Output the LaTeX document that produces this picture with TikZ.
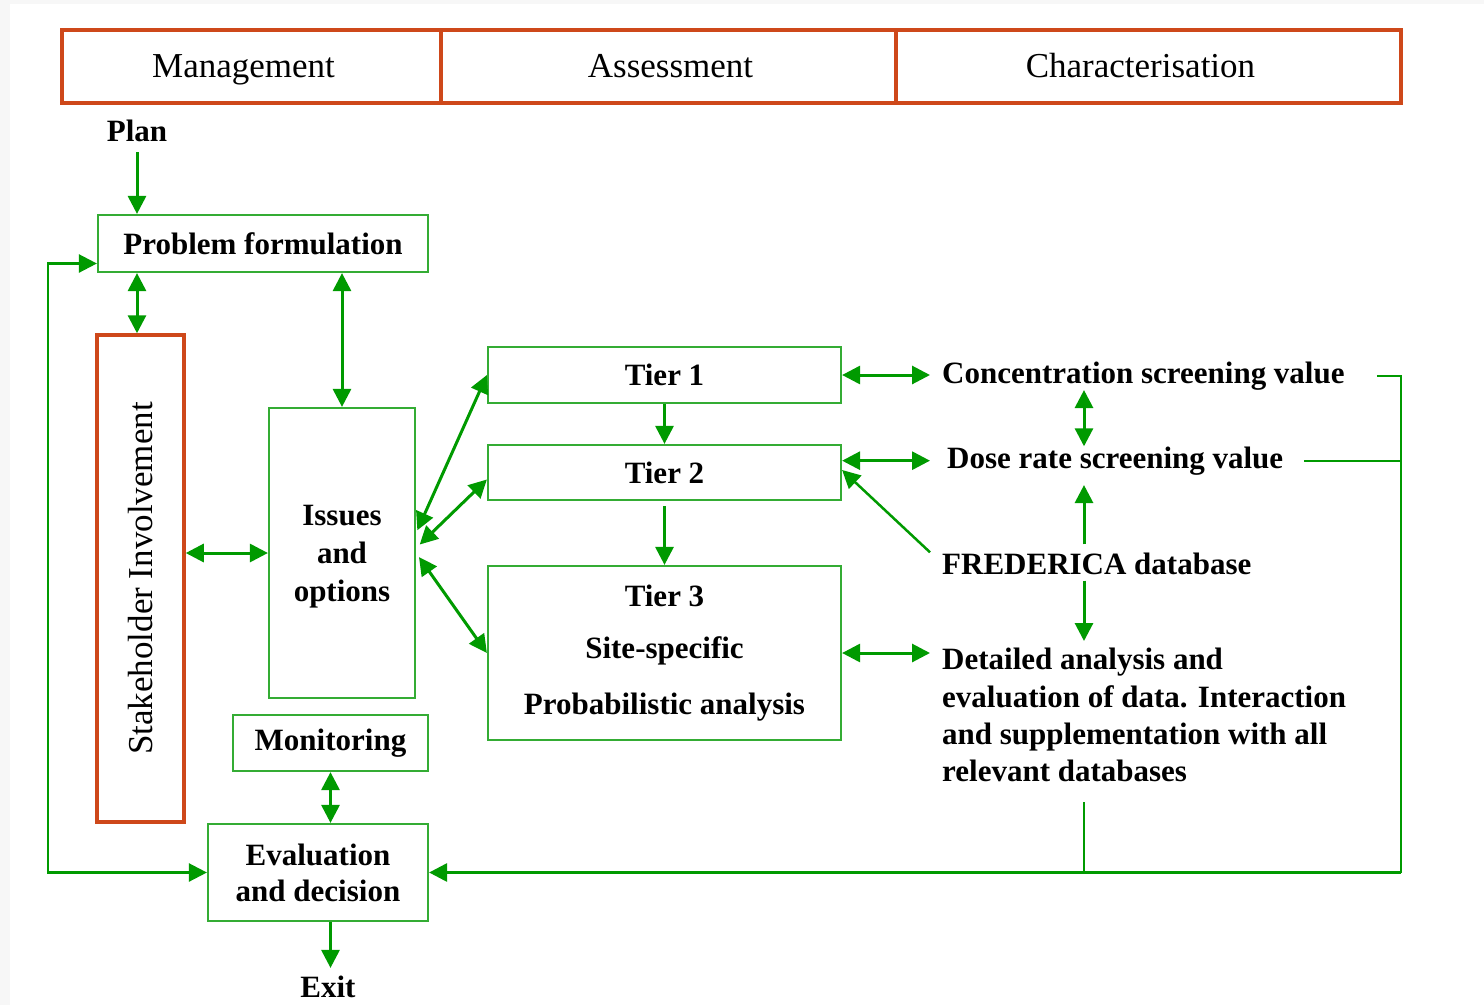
\documentclass[tikz,border=0pt]{standalone}
\usepackage{fontspec}
\setmainfont{Liberation Serif}
\usetikzlibrary{arrows.meta,calc}
\definecolor{hdrred}{RGB}{206,72,26}
\definecolor{flowgreen}{RGB}{0,154,0}
\definecolor{boxgreen}{RGB}{52,172,52}
\tikzset{
  hdrcell/.style={draw=hdrred, line width=3.5pt, minimum height=73pt, inner sep=0pt, text height=26pt, text depth=5pt, font=\fontsize{35}{42}\selectfont},
  redbox/.style={draw=hdrred, line width=3.5pt, inner sep=0pt, font=\fontsize{35}{42}\selectfont},
  greenbox/.style={draw=boxgreen, line width=2.2pt, inner sep=0pt, align=center, font=\fontsize{31}{38}\selectfont\bfseries},
  lbl/.style={inner sep=0pt, font=\fontsize{31}{37.3}\selectfont\bfseries},
  flow/.style={draw=flowgreen, line width=3pt, -{Triangle[length=18pt,width=18pt]}},
  flowboth/.style={flow, {Triangle[length=18pt,width=18pt]}-{Triangle[length=18pt,width=18pt]}},
  plainflow/.style={draw=flowgreen, line width=2.2pt},
}

\begin{document}
\begin{tikzpicture}[x=1pt,y=-1pt]
\useasboundingbox (0,0) rectangle (1484,1005);
\fill[gray!6] (0,0) rectangle (1484,1005);
\fill[white] (10,4) rectangle (1484,1005);

\node[hdrcell, minimum width=379pt] (mgmt) at (251.5,66.5) {Management\hspace*{16pt}};
\node[hdrcell, minimum width=455pt] (assess) at (668.5,66.5) {\hspace*{4pt}Assessment};
\node[hdrcell, minimum width=505pt] (charact) at (1148.5,66.5) {Characterisation\hspace*{16pt}};

\node[greenbox, minimum width=330pt, minimum height=57pt] (prob) at (263,243.5) {Problem formulation};
\node[redbox, minimum width=87pt, minimum height=487pt] (stake) at (140.5,578.5) {\rotatebox{90}{Stakeholder Involvement}};
\node[greenbox, minimum width=146pt, minimum height=290pt, text depth=0pt] (issues) at (342,553) {Issues\\and\\options};
\node[greenbox, minimum width=195pt, minimum height=56pt] (mon) at (330.5,743) {Monitoring};
\node[greenbox, minimum width=220pt, minimum height=97pt, font=\fontsize{31}{36}\selectfont\bfseries] (eval) at (318,872.5) {Evaluation\\and decision};
\node[greenbox, minimum width=353pt, minimum height=56pt] (tier1) at (664.5,375) {Tier 1};
\node[greenbox, minimum width=353pt, minimum height=55pt] (tier2) at (664.5,472.5) {Tier 2};
\node[greenbox, minimum width=353pt, minimum height=174pt] (tier3) at (664.5,653) {Tier 3\\[14pt]Site-specific\\[18pt]Probabilistic analysis};

\node[lbl] (plan) at (137,131) {Plan};
\node[lbl] (exit) at (328,987) {Exit};
\node[lbl, anchor=base west] (conc) at (942,383) {Concentration screening value};
\node[lbl, anchor=base west] (dose) at (947,468) {Dose rate screening value};
\node[lbl, anchor=base west] (fred) at (942,574) {FREDERICA database};
\node[lbl, anchor=north west, align=left] (detail) at (942,648) {Detailed analysis and\\evaluation of data. Interaction\\and supplementation with all\\relevant databases};

\coordinate (colx) at (1084,0);
\coordinate (colR) at (1401,0);

\draw[flow, shorten <=10pt] (plan.south) -- (plan.south |- prob.north);
\draw[flowboth] (plan.south |- prob.south) -- (plan.south |- stake.north);
\draw[flowboth] (issues.north) -- (issues.north |- prob.south);
\draw[flowboth] (stake.east |- issues.west) -- (issues.west);
\draw[flowboth] (mon.south) -- (mon.south |- eval.north);
\draw[flow, shorten >=8pt] (mon.south |- eval.south) -- (mon.south |- exit.north);
\draw[flowboth, line width=2.5pt] ([yshift=-20pt]prob.west) -- ++(-49,0) |- (eval.west);

\draw[flowboth, shorten <=3pt] ([yshift=20pt]issues.east) -- (tier1.west);
\draw[flowboth, shorten <=5pt] ([yshift=5pt]issues.east) -- ([yshift=-7pt]tier2.west);
\draw[flowboth, shorten <=5pt] (issues.east) -- (tier3.west);
\draw[flow] (tier1.south) -- (tier2.north);
\draw[flow, shorten <=5pt] (tier2.south) -- (tier3.north);

\draw[flowboth, shorten >=12pt] (tier1.east) -- (tier1.east -| conc.west);
\draw[flowboth, shorten >=12pt] (dose.west -| tier2.east) -- (dose.west -| conc.west);
\draw[flow, line width=2.5pt] ([xshift=-12pt]fred.north west) -- ([yshift=2.5pt]tier2.east);
\draw[flowboth, shorten >=12pt] (tier3.east) -- (tier3.east -| detail.west);

\draw[flowboth] (colx |- conc.south) -- (colx |- dose.north);
\draw[flow, shorten <=8pt, shorten >=10pt] (colx |- fred.north) -- (colx |- dose.south);
\draw[flow, shorten <=6pt, shorten >=7pt] (colx |- fred.south) -- (colx |- detail.north);
\draw[plainflow, shorten <=20pt] (colx |- detail.south) -- (colx |- eval.east);
\draw[plainflow] ([xshift=32pt]conc.east) -- (colR |- conc.east) -- (colR |- eval.east);
\draw[plainflow] ([xshift=21pt]dose.east) -- (colR |- dose.east);
\draw[flow] (colR |- eval.east) -- (eval.east);
\end{tikzpicture}
\end{document}
